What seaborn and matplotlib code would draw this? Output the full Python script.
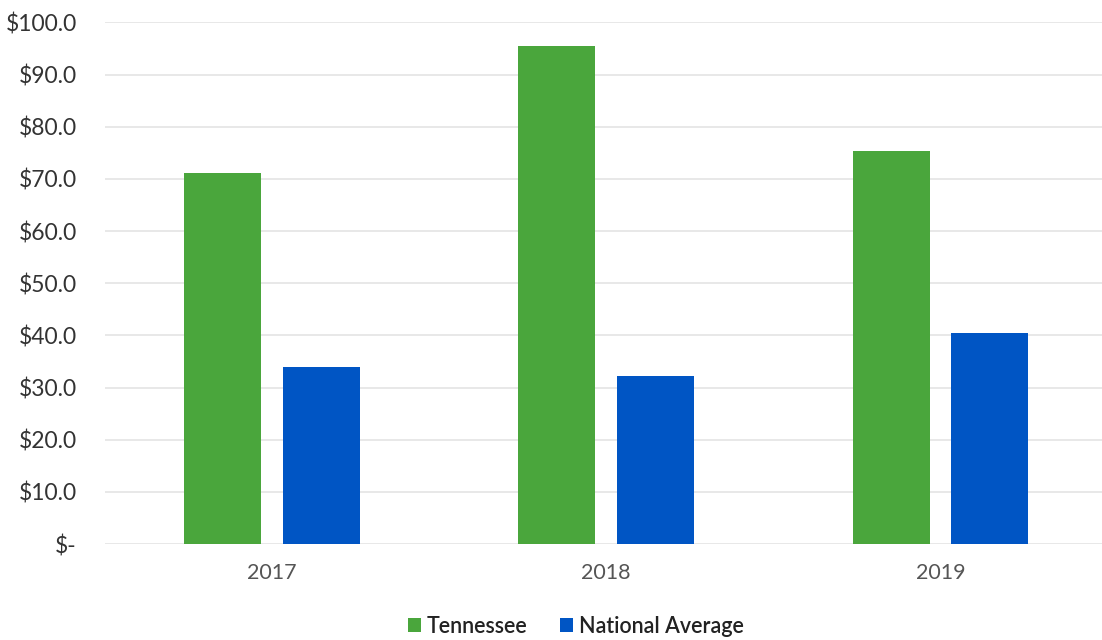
import matplotlib
matplotlib.use("Agg")
import matplotlib.pyplot as plt
import seaborn as sns
import pandas as pd
from matplotlib.ticker import FuncFormatter, MultipleLocator

years = ["2017", "2018", "2019"]
tennessee = [71.1, 95.4, 75.3]
national = [33.9, 32.2, 40.4]
series_names = ["Tennessee", "National Average"]
colors = ["#4aa63c", "#0055c4"]

df = pd.DataFrame({
    "Year": years * 2,
    "Value": tennessee + national,
    "Series": [series_names[0]] * 3 + [series_names[1]] * 3,
})

sns.set_theme(style="white")
plt.rcParams['font.family'] = ['Lato', 'DejaVu Sans']

fig = plt.figure(figsize=(11.02, 6.4), dpi=100)
ax = fig.add_axes([0.095, 0.15, 0.91, 0.815])

sns.barplot(data=df, x="Year", y="Value", hue="Series", palette=colors,
            width=0.59, gap=0.22, ax=ax, legend=True, saturation=1,
            linewidth=0)

ax.set_ylim(0, 100)
ax.set_xlim(-0.5, 2.5)
ax.yaxis.set_major_locator(MultipleLocator(10))
ax.yaxis.set_major_formatter(FuncFormatter(lambda v, p: "$-" if v == 0 else f"${v:.1f}"))
ax.grid(axis="y", color="#e4e4e4", linewidth=1.2)
ax.set_axisbelow(True)
for s in ax.spines.values():
    s.set_visible(False)
ax.set_xlabel("")
ax.set_ylabel("")
ax.tick_params(axis="y", labelsize=16.5, labelcolor="#333333", length=0, pad=20)
ax.tick_params(axis="x", labelsize=15.5, labelcolor="#555555", length=0, pad=14)

handles, labels = ax.get_legend_handles_labels()
leg = ax.legend(handles, labels, loc="lower center", bbox_to_anchor=(0.47, -0.215),
                ncol=2, frameon=False, fontsize=15.5, handlelength=0.6, handleheight=0.6,
                handletextpad=0.3, columnspacing=1.5, labelcolor="#222222")
for t in leg.get_texts():
    t.set_fontweight("semibold")

fig.savefig("out.png", dpi=100)
